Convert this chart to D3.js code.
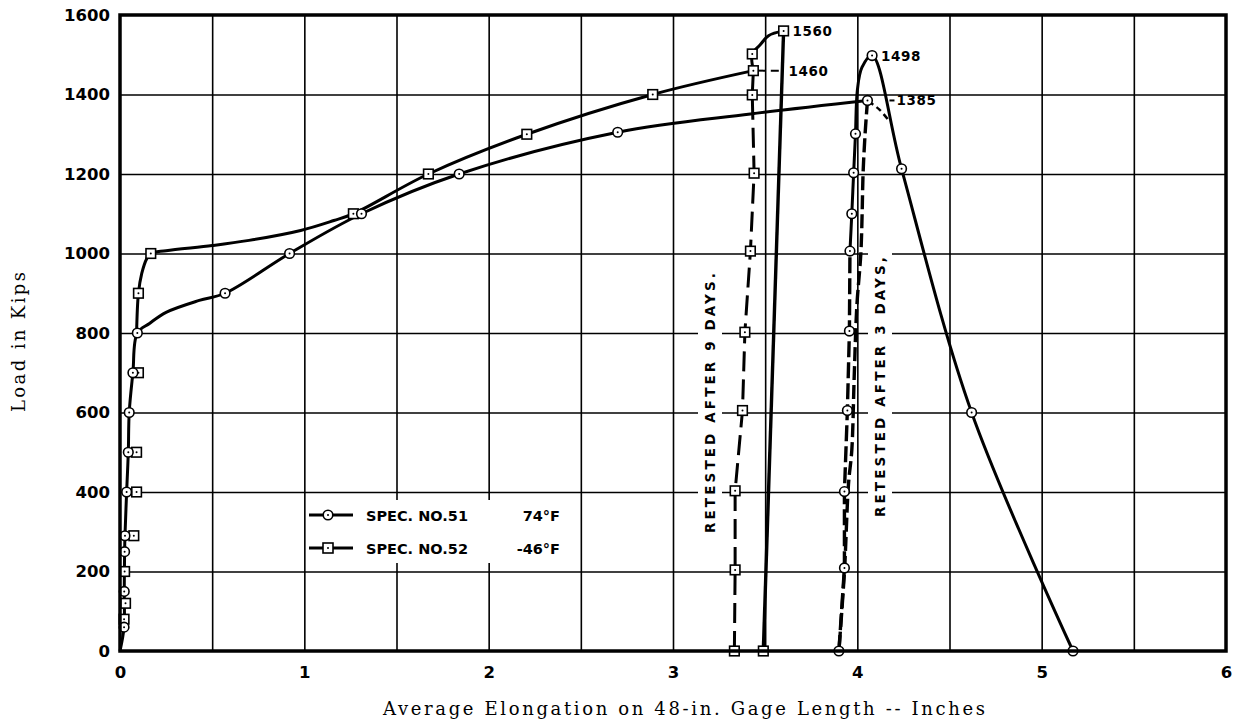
<!DOCTYPE html>
<html>
<head>
<meta charset="utf-8">
<script src="https://cdn.jsdelivr.net/npm/d3@7"></script>
<style>
  html, body { margin: 0; padding: 0; background: #fff; }
  svg { display: block; }
</style>
</head>
<body>
<svg id="chart" width="1238" height="723"></svg>
<script>
// ---- Axis ticks ----
const xTicks = [0, 1, 2, 3, 4, 5, 6];
const yTicks = [0, 200, 400, 600, 800, 1000, 1200, 1400, 1600];
const xGridSteps = [0.5, 1, 1.5, 2, 2.5, 3, 3.5, 4, 4.5, 5, 5.5];
const yGridSteps = [200, 400, 600, 800, 1000, 1200, 1400];

// ---- Spec. No. 51 (74°F) : first test [elongation in., load kips] ----
const spec51Circles = [[0.022, 60], [0.023, 150], [0.025, 250], [0.027, 290], [0.036, 400], [0.045, 500],
  [0.05, 600], [0.07, 700], [0.094, 800], [0.57, 900], [0.92, 1000], [1.31, 1100], [1.84, 1200],
  [2.70, 1305], [4.055, 1385]];
const spec51Curve = [[0, 0], [0.022, 60], [0.023, 150], [0.025, 250], [0.027, 290], [0.036, 400], [0.045, 500],
  [0.05, 600], [0.07, 700], [0.094, 800], [0.16, 824], [0.25, 852], [0.43, 882], [0.57, 900], [0.92, 1000],
  [1.31, 1100], [1.84, 1200], [2.70, 1305], [3.42, 1351], [4.055, 1385]];
// unloading after first test
const spec51Unload = [[4.055, 1385], [4.042, 1300], [4.031, 1200], [4.026, 1100], [4.019, 1000], [3.997, 865],
  [3.983, 690], [3.97, 505], [3.952, 420], [3.93, 200], [3.90, 0]];
const spec51Drop = [[4.06, 1383], [4.12, 1362], [4.165, 1338]];
// retested after 3 days
const spec51RetestCircles = [[3.90, 0], [3.93, 209], [3.93, 401], [3.946, 605], [3.957, 805], [3.96, 1006],
  [3.97, 1100], [3.98, 1203], [3.99, 1301], [4.08, 1498], [4.24, 1213], [4.62, 600], [5.17, 0]];
const spec51RetestDashed = [[3.90, 0], [3.93, 209], [3.93, 401], [3.946, 605], [3.957, 805], [3.96, 1006]];
const spec51RetestSolid = [[3.96, 1006], [3.97, 1100], [3.98, 1203], [3.99, 1301], [4.0, 1410], [4.025, 1468],
  [4.08, 1498], [4.24, 1213], [4.62, 600], [5.17, 0]];

// ---- Spec. No. 52 (-46°F) : first test ----
const spec52Squares = [[0.022, 80], [0.03, 120], [0.025, 200], [0.075, 290], [0.09, 400], [0.09, 500],
  [0.1, 700], [0.1, 900], [0.167, 1000], [1.266, 1100], [1.673, 1200], [2.207, 1300], [2.89, 1400],
  [3.436, 1460]];
const spec52Curve = [[0.09, 800], [0.1, 900], [0.118, 950], [0.145, 987], [0.167, 1000], [0.25, 1007],
  [0.5, 1020], [0.7, 1033], [0.98, 1058], [1.16, 1083], [1.266, 1100], [1.673, 1200], [2.207, 1300],
  [2.89, 1400], [3.436, 1460]];
// retested after 9 days
const spec52RetestDashed = [[3.333, 0], [3.337, 204], [3.337, 403], [3.377, 605], [3.39, 802], [3.42, 1006],
  [3.44, 1202], [3.43, 1399], [3.436, 1460]];
const spec52RetestSquares = [[3.333, 0], [3.337, 204], [3.337, 403], [3.377, 605], [3.39, 802], [3.42, 1006],
  [3.44, 1202], [3.43, 1399], [3.43, 1502], [3.6, 1560], [3.49, 0]];
const spec52RetestTop = [[3.436, 1460], [3.43, 1502], [3.473, 1525], [3.518, 1548], [3.6, 1560]];
const spec52Fracture = [[3.6, 1560], [3.49, 0]];
const spec52Leader = [[3.46, 1460], [3.59, 1460]];

// ---- Value call-outs [text, elongation, load] ----
const callouts = [["1560", 3.6, 1560], ["1460", 3.6, 1460], ["1498", 4.08, 1498], ["1385", 4.055, 1385]];

// ---- Legend ----
const legendNames = ["SPEC. NO.51", "SPEC. NO.52"];
const legendTemps = ["74°F", "-46°F"];
const legendMarks = ["circle", "square"];

// ---- Notes ----
const notes = ["RETESTED  AFTER  9  DAYS.", "RETESTED  AFTER  3  DAYS,"];

// ================= drawing =================
const svg = d3.select("#chart");
const x = d3.scaleLinear().domain([0, 6]).range([120, 1226]);
const y = d3.scaleLinear().domain([0, 1600]).range([651, 15]);
const plotW = 1226 - 120, plotH = 651 - 15;

// grid
const grid = svg.append("g").attr("stroke", "#000");
grid.append("g")
  .attr("transform", `translate(0,${y(0)})`)
  .call(d3.axisBottom(x).tickValues(xGridSteps).tickSize(-plotH).tickFormat(""))
  .call(g => g.select(".domain").remove())
  .call(g => g.selectAll("line").attr("stroke", "#000").attr("stroke-width", 1.6));
grid.append("g")
  .attr("transform", `translate(${x(0)},0)`)
  .call(d3.axisLeft(y).tickValues(yGridSteps).tickSize(-plotW).tickFormat(""))
  .call(g => g.select(".domain").remove())
  .call(g => g.selectAll("line").attr("stroke", "#000").attr("stroke-width", 1.6));

// white panels behind notes and legend
svg.append("rect").attr("x", 698).attr("y", 272).attr("width", 24).attr("height", 262).attr("fill", "#fff");
svg.append("rect").attr("x", 868).attr("y", 250).attr("width", 24).attr("height", 272).attr("fill", "#fff");
svg.append("rect").attr("x", 308).attr("y", 500).attr("width", 257).attr("height", 63).attr("fill", "#fff");

const smooth = d3.line().x(d => x(d[0])).y(d => y(d[1])).curve(d3.curveCatmullRom.alpha(0.5));
const straight = d3.line().x(d => x(d[0])).y(d => y(d[1]));

function path(data, gen, width, dash) {
  svg.append("path").datum(data)
    .attr("d", gen)
    .attr("fill", "none")
    .attr("stroke", "#000")
    .attr("stroke-width", width)
    .attr("stroke-linecap", "butt")
    .attr("stroke-linejoin", "round")
    .attr("stroke-dasharray", dash || null);
}

path(spec51Curve, smooth, 3);
path(spec52Curve, smooth, 3);
path(spec52RetestDashed, straight, 3, "20,8");
path(spec52RetestTop, smooth, 3);
path(spec52Fracture, straight, 3.4);
path(spec52Leader, straight, 2, "8,5");
path(spec51Unload, smooth, 3.4, "14,5");
path(spec51Drop, smooth, 2.5, "6,4");
path(spec51RetestDashed, straight, 3.4, "16,5");
path(spec51RetestSolid, smooth, 3);

// markers
function circles(data) {
  const g = svg.append("g");
  g.selectAll("circle.m").data(data).join("circle")
    .attr("cx", d => x(d[0])).attr("cy", d => y(d[1])).attr("r", 4.8)
    .attr("fill", "#fff").attr("stroke", "#000").attr("stroke-width", 1.6);
  g.selectAll("circle.c").data(data).join("circle").attr("class", "c")
    .attr("cx", d => x(d[0])).attr("cy", d => y(d[1])).attr("r", 1).attr("fill", "#000");
}
function squares(data) {
  const g = svg.append("g");
  g.selectAll("rect").data(data).join("rect")
    .attr("x", d => x(d[0]) - 4.8).attr("y", d => y(d[1]) - 4.8)
    .attr("width", 9.6).attr("height", 9.6)
    .attr("fill", "#fff").attr("stroke", "#000").attr("stroke-width", 1.6);
  g.selectAll("circle").data(data).join("circle")
    .attr("cx", d => x(d[0])).attr("cy", d => y(d[1])).attr("r", 1).attr("fill", "#000");
}
squares(spec52Squares);
squares(spec52RetestSquares);
circles(spec51Circles);
circles(spec51RetestCircles);

// call-outs
const bold = "'DejaVu Sans', 'Liberation Sans', sans-serif";
callouts.forEach(([t, ex, ld]) => {
  let px = x(ex) + 9;
  if (t === "1460") px = x(ex) + 5;
  if (t === "1385") {
    svg.append("line").attr("x1", x(ex) + 22).attr("x2", x(ex) + 27)
      .attr("y1", y(ld)).attr("y2", y(ld)).attr("stroke", "#000").attr("stroke-width", 2);
    px = x(ex) + 29;
  }
  svg.append("text").attr("x", px).attr("y", y(ld) + 5)
    .attr("font-family", bold).attr("font-weight", "bold").attr("font-size", 13.5)
    .attr("letter-spacing", 0.6).text(t);
});

// notes (vertical)
notes.forEach((t, i) => {
  const cx = i === 0 ? 710 : 880;
  const cy = i === 0 ? 403 : 387;
  svg.append("text")
    .attr("transform", `translate(${cx},${cy}) rotate(-90)`)
    .attr("text-anchor", "middle").attr("dy", "0.36em")
    .attr("font-family", bold).attr("font-weight", "bold").attr("font-size", 13.5)
    .attr("textLength", 260).attr("lengthAdjust", "spacing")
    .text(t);
});

// legend
legendNames.forEach((name, i) => {
  const ly = 515 + i * 33;
  svg.append("line").attr("x1", 309).attr("x2", 353).attr("y1", ly).attr("y2", ly)
    .attr("stroke", "#000").attr("stroke-width", 3);
  if (legendMarks[i] === "circle") {
    svg.append("circle").attr("cx", 328).attr("cy", ly).attr("r", 4.8)
      .attr("fill", "#fff").attr("stroke", "#000").attr("stroke-width", 1.6);
  } else {
    svg.append("rect").attr("x", 323).attr("y", ly - 5).attr("width", 10).attr("height", 10)
      .attr("fill", "#fff").attr("stroke", "#000").attr("stroke-width", 1.6);
  }
  svg.append("circle").attr("cx", 328).attr("cy", ly).attr("r", 1).attr("fill", "#000");
  svg.append("text").attr("x", 366).attr("y", ly + 5.5)
    .attr("font-family", bold).attr("font-weight", "bold").attr("font-size", 14.5)
    .text(name);
  svg.append("text").attr("x", 560).attr("y", ly + 5.5).attr("text-anchor", "end")
    .attr("font-family", bold).attr("font-weight", "bold").attr("font-size", 14.5)
    .text(legendTemps[i]);
});

// frame
svg.append("rect").attr("x", x(0)).attr("y", y(1600)).attr("width", plotW).attr("height", plotH)
  .attr("fill", "none").attr("stroke", "#000").attr("stroke-width", 3.5);

// tick labels
svg.append("g")
  .attr("transform", `translate(${x(0)},0)`)
  .call(d3.axisLeft(y).tickValues(yTicks).tickSize(0).tickPadding(10).tickFormat(d3.format("d")))
  .call(g => g.select(".domain").remove())
  .call(g => g.selectAll("text").attr("font-family", bold).attr("font-weight", "bold")
    .attr("font-size", 16.5).attr("fill", "#000"));
svg.append("g")
  .attr("transform", `translate(0,${y(0)})`)
  .call(d3.axisBottom(x).tickValues(xTicks).tickSize(0).tickPadding(15).tickFormat(d3.format("d")))
  .call(g => g.select(".domain").remove())
  .call(g => g.selectAll("text").attr("font-family", bold).attr("font-weight", "bold")
    .attr("font-size", 16.5).attr("fill", "#000"));

// axis titles
const serif = "'DejaVu Serif', 'Liberation Serif', serif";
svg.append("text").attr("x", 684).attr("y", 715).attr("text-anchor", "middle")
  .attr("font-family", serif).attr("font-size", 18)
  .attr("textLength", 602).attr("lengthAdjust", "spacing")
  .text("Average Elongation on 48-in. Gage Length -- Inches");
svg.append("text").attr("transform", "translate(19,342) rotate(-90)")
  .attr("text-anchor", "middle").attr("dy", "0.35em")
  .attr("font-family", serif).attr("font-size", 18)
  .attr("textLength", 140).attr("lengthAdjust", "spacing")
  .text("Load in Kips");
</script>
</body>
</html>
